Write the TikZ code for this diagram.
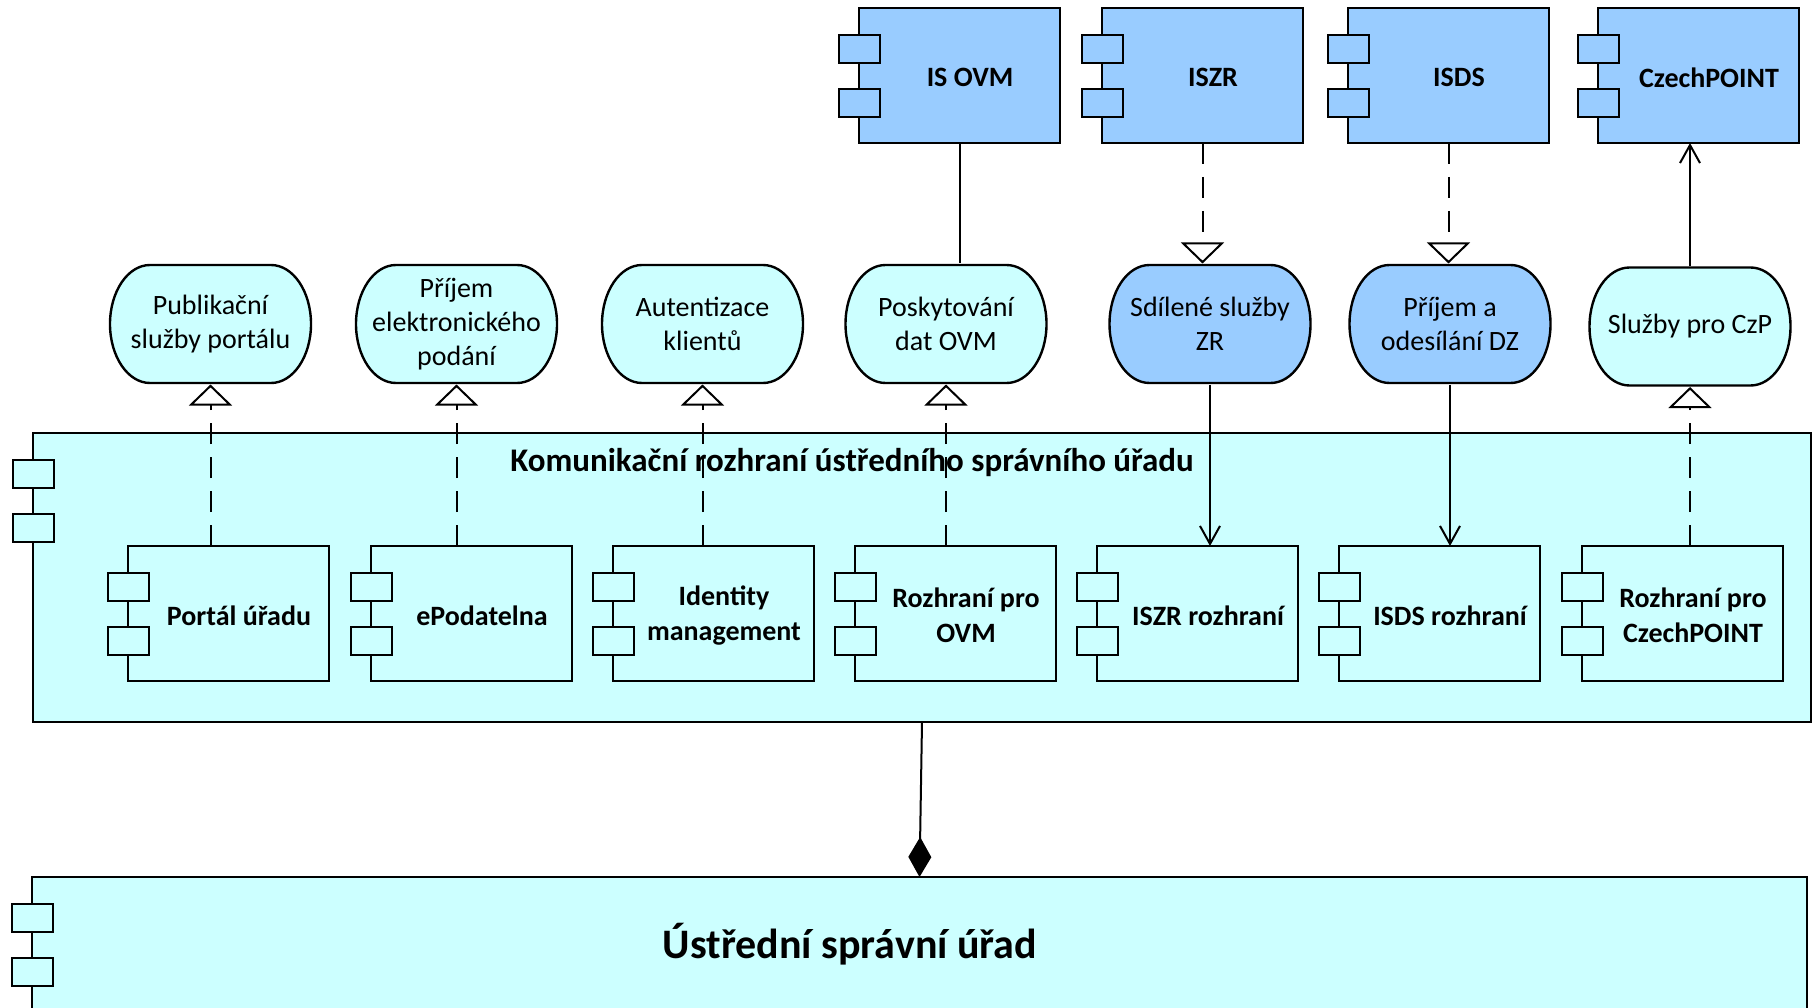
\documentclass[tikz,border=0pt]{standalone}
\usepackage{fontspec}
\setmainfont{Carlito}
\usetikzlibrary{arrows.meta}

\definecolor{appcyan}{HTML}{CCFFFF}
\definecolor{appblue}{HTML}{99CCFF}

\tikzset{
  comp/.style={rectangle, draw, line width=2.4pt, fill=#1, minimum width=201pt,
    minimum height=135pt, inner sep=0pt, outer sep=0pt},
  complabel/.style={anchor=center, xshift=10.5pt, yshift=-2pt, align=center,
    font=\bfseries\fontsize{28}{35}\selectfont},
  tab/.style={draw, line width=2.4pt, fill=#1},
  service/.style={rectangle, minimum width=204pt, minimum height=121pt,
    inner sep=0pt, outer sep=0pt, align=center, font=\fontsize{28}{34}\selectfont,
    path picture={
      \filldraw[fill=#1, line width=2.4pt]
        ([xshift=41.5pt,yshift=-1.5pt]path picture bounding box.north west)
        -- ([xshift=-41.5pt,yshift=-1.5pt]path picture bounding box.north east)
        arc[start angle=90, end angle=-90, x radius=40pt, y radius=59pt]
        -- ([xshift=41.5pt,yshift=1.5pt]path picture bounding box.south west)
        arc[start angle=270, end angle=90, x radius=40pt, y radius=59pt]
        -- cycle;
    }},
  realize/.style={line width=2pt, dash pattern=on 21pt off 13pt,
    -{Triangle[open, width=43pt, length=21pt]}},
  serve/.style={line width=2pt, -{Straight Barb[length=18pt, width=20pt]}},
  assoc/.style={line width=2pt},
  compose/.style={line width=2pt, -{Diamond[length=40pt, width=23pt]}}
}

\begin{document}
\begin{tikzpicture}[x=1pt, y=-1pt]
  \useasboundingbox (0,0) rectangle (1814,1008);

  % application components
  \node[comp=appblue, label={[complabel]center:IS OVM}]     (isovm)   at (959.5,75.5)  {};
  \node[comp=appblue, label={[complabel]center:ISZR}]       (iszr)    at (1202.5,75.5) {};
  \node[comp=appblue, label={[complabel]center:ISDS}]       (isds)    at (1448.5,75.5) {};
  \node[comp=appblue, label={[complabel]center:CzechPOINT}] (czpoint) at (1698.5,75.5) {};

  % services
  \node[service=appcyan] (pub)    at (210.5,324) {Publikační\\služby portálu};
  \node[service=appcyan] (prijem) at (456.5,324) {Příjem\\elektronického\\podání};
  \node[service=appcyan] (autent) at (702.5,324) {Autentizace\\klientů};
  \node[service=appcyan] (posk)   at (946,324)   {Poskytování\\dat OVM};
  \node[service=appblue] (sdil)   at (1210,324)  {Sdílené služby\\ZR};
  \node[service=appblue] (prijdz) at (1450,324)  {Příjem a\\odesílání DZ};
  \node[service=appcyan] (czpsrv) at (1690,326.5) {Služby pro CzP};

  % interface of the office
  \node[comp=appcyan, minimum width=1778pt, minimum height=289pt,
    label={[anchor=center, xshift=-70pt, yshift=-30pt,
      font=\bfseries\fontsize{33}{40}\selectfont]north:Komunikační rozhraní ústředního správního úřadu}]
    (kom) at (922,577.5) {};

  \node[comp=appcyan, label={[complabel]center:Portál úřadu}]              (portal) at (228.5,613.5)  {};
  \node[comp=appcyan, label={[complabel]center:ePodatelna}]                (epod)   at (471.5,613.5)  {};
  \node[comp=appcyan, label={[complabel]center:{Identity\\management}}]    (idm)    at (713.5,613.5)  {};
  \node[comp=appcyan, label={[complabel]center:{Rozhraní pro\\OVM}}]       (rovm)   at (955.5,613.5)  {};
  \node[comp=appcyan, label={[complabel]center:ISZR rozhraní}]             (iszrr)  at (1197.5,613.5) {};
  \node[comp=appcyan, label={[complabel]center:ISDS rozhraní}]             (isdsr)  at (1439.5,613.5) {};
  \node[comp=appcyan, label={[complabel]center:{Rozhraní pro\\CzechPOINT}}] (rczp)  at (1682.5,613.5) {};

  \node[comp=appcyan, minimum width=1775pt, minimum height=135pt,
    label={[anchor=center, xshift=-69.5pt,
      font=\bfseries\fontsize{42}{50}\selectfont]center:Ústřední správní úřad}]
    (ustr) at (919.5,944.5) {};

  % component tabs
  \foreach \c/\col in {isovm/appblue, iszr/appblue, isds/appblue, czpoint/appblue,
      kom/appcyan, portal/appcyan, epod/appcyan, idm/appcyan, rovm/appcyan,
      iszrr/appcyan, isdsr/appcyan, rczp/appcyan, ustr/appcyan}
    \foreach \dy in {27pt,81pt}
      \draw[tab=\col] ([xshift=-20pt,yshift=-\dy]\c.north west) rectangle ++(41,28);

  % relations
  \path (isovm.south) edge[assoc] (isovm.south |- posk.north);
  \path (iszr.south) edge[realize] (iszr.south |- sdil.north);
  \path (isds.south) edge[realize] (isds.south |- prijdz.north);
  \path (czpsrv.north) edge[serve] (czpsrv.north |- czpoint.south);

  \path (sdil.south) edge[serve] (sdil.south |- iszrr.north);
  \path (prijdz.south) edge[serve] (prijdz.south |- isdsr.north);

  \path (pub.south |- portal.north) edge[realize] (pub.south);
  \path (prijem.south |- epod.north) edge[realize] (prijem.south);
  \path (autent.south |- idm.north) edge[realize] (autent.south);
  \path (posk.south |- rovm.north) edge[realize] (posk.south);
  \path (czpsrv.south |- rczp.north) edge[realize] (czpsrv.south);

  \path (kom.south) edge[compose] (ustr.north);

\end{tikzpicture}
\end{document}
